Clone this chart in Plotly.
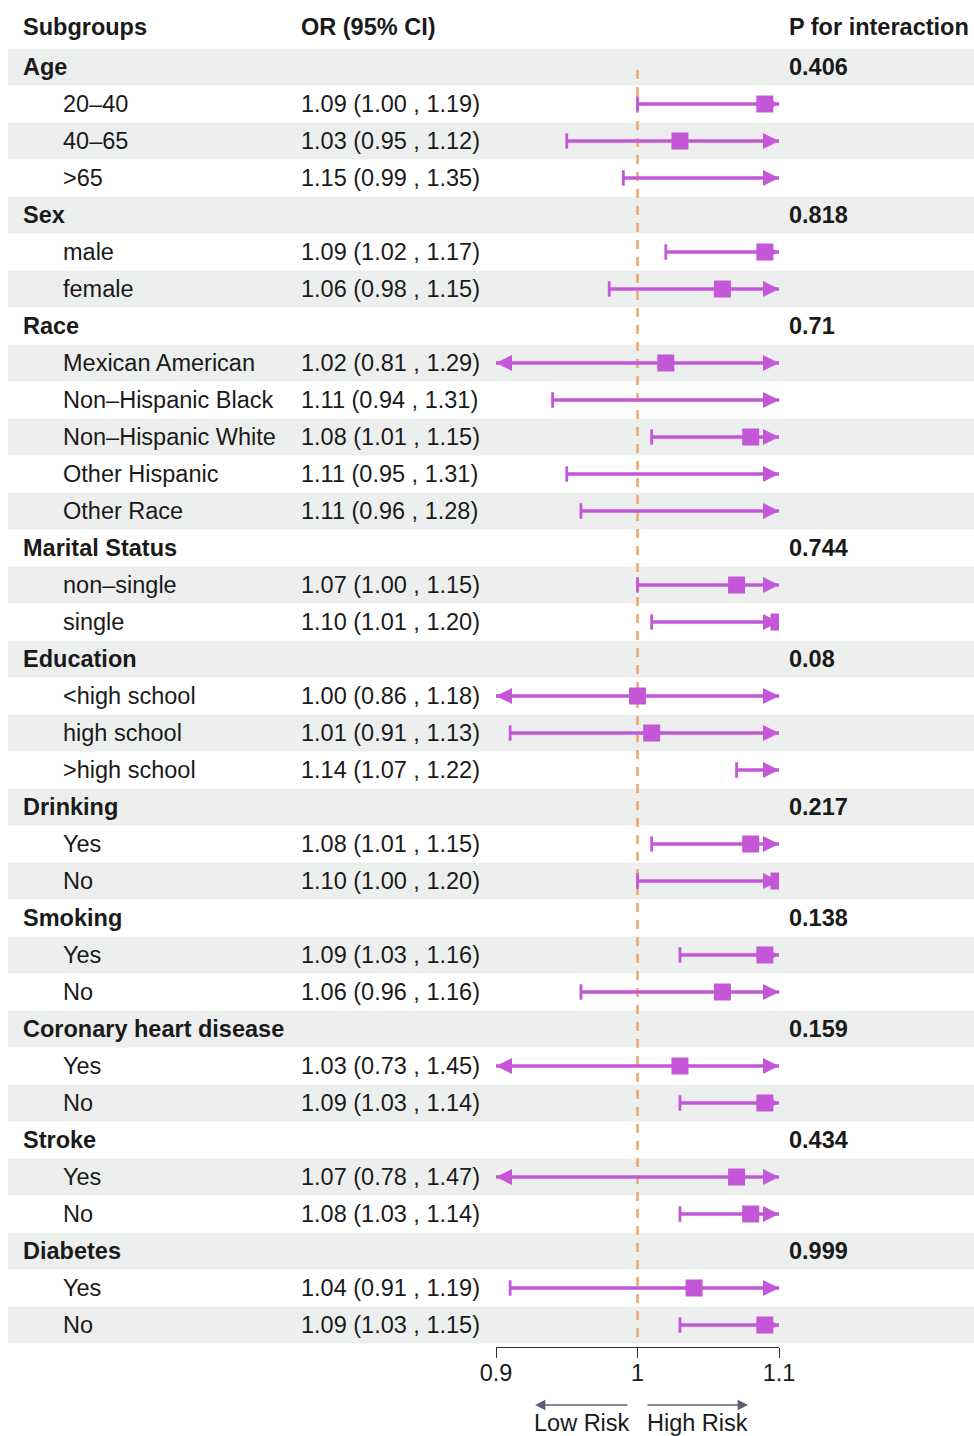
import plotly.graph_objects as go

W, H = 974, 1436

# ---------------- data ----------------
groups = ["Age", "Sex", "Race", "Marital Status", "Education", "Drinking",
          "Smoking", "Coronary heart disease", "Stroke", "Diabetes"]
p_interaction = ["0.406", "0.818", "0.71", "0.744", "0.08", "0.217",
                 "0.138", "0.159", "0.434", "0.999"]
subgroups = [
    ["20–40", "40–65", ">65"],
    ["male", "female"],
    ["Mexican American", "Non–Hispanic Black", "Non–Hispanic White", "Other Hispanic", "Other Race"],
    ["non–single", "single"],
    ["<high school", "high school", ">high school"],
    ["Yes", "No"],
    ["Yes", "No"],
    ["Yes", "No"],
    ["Yes", "No"],
    ["Yes", "No"],
]
or_est = [
    [1.09, 1.03, 1.15],
    [1.09, 1.06],
    [1.02, 1.11, 1.08, 1.11, 1.11],
    [1.07, 1.10],
    [1.00, 1.01, 1.14],
    [1.08, 1.10],
    [1.09, 1.06],
    [1.03, 1.09],
    [1.07, 1.08],
    [1.04, 1.09],
]
ci_low = [
    [1.00, 0.95, 0.99],
    [1.02, 0.98],
    [0.81, 0.94, 1.01, 0.95, 0.96],
    [1.00, 1.01],
    [0.86, 0.91, 1.07],
    [1.01, 1.00],
    [1.03, 0.96],
    [0.73, 1.03],
    [0.78, 1.03],
    [0.91, 1.03],
]
ci_high = [
    [1.19, 1.12, 1.35],
    [1.17, 1.15],
    [1.29, 1.31, 1.15, 1.31, 1.28],
    [1.15, 1.20],
    [1.18, 1.13, 1.22],
    [1.15, 1.20],
    [1.16, 1.16],
    [1.45, 1.14],
    [1.47, 1.14],
    [1.19, 1.15],
]
x_min, x_max = 0.9, 1.1
tick_vals = [0.9, 1.0, 1.1]
tick_text = ["0.9", "1", "1.1"]

# ---------------- layout constants ----------------
FONT = "Liberation Sans, Arial, Helvetica, sans-serif"
FS = 23.5
TXT = "#1a1a1a"
PURPLE = "#C457D8"
ORANGE = "#F4A46E"
BAND = "#EDEFEE"
ROW0, PITCH = 67, 37          # pixel centre of first row, row pitch
X_LBL_G, X_LBL_S, X_OR, X_P = 21, 61, 299, 787
AX_L, AX_R = 496, 779
LW = 3.3


def row_of(px):
    return (px - ROW0) / PITCH


# build rows
rows = []  # (label, is_group, est, lo, hi, p)
for g, p, subs, es, ls, hs in zip(groups, p_interaction, subgroups, or_est, ci_low, ci_high):
    rows.append((g, True, None, None, None, p))
    for s, e, l, h in zip(subs, es, ls, hs):
        rows.append((s, False, e, l, h, None))

fig = go.Figure()
shapes = []
annotations = []

# bands
for i in range(len(rows)):
    if i % 2 == 0:
        shapes.append(dict(type="rect", xref="paper", yref="y", x0=8 / W, x1=1,
                           y0=i - 0.5, y1=i + 0.5, fillcolor=BAND, line=dict(width=0),
                           layer="below"))

# reference line at OR = 1
shapes.append(dict(type="line", xref="x", yref="y", x0=1, x1=1,
                   y0=row_of(70), y1=row_of(1340),
                   line=dict(color=ORANGE, width=2.5, dash="9px,8px"), layer="below"))

# header
for txt, px in [("Subgroups", X_LBL_G), ("OR (95% CI)", X_OR), ("P for interaction", X_P)]:
    annotations.append(dict(x=px / W, xref="paper", y=row_of(27), yref="y", text=f"<b>{txt}</b>",
                            showarrow=False, xanchor="left", yanchor="middle",
                            font=dict(family=FONT, size=FS, color=TXT)))

line_x, line_y = [], []
cap_x, cap_y = [], []
arr_r_x, arr_r_y = [], []
arr_l_x, arr_l_y = [], []
sq_x, sq_y = [], []

for i, (lab, is_g, e, l, h, p) in enumerate(rows):
    if is_g:
        annotations.append(dict(x=X_LBL_G / W, xref="paper", y=i, yref="y", text=f"<b>{lab}</b>",
                                showarrow=False, xanchor="left", yanchor="middle",
                                font=dict(family=FONT, size=FS, color=TXT)))
        annotations.append(dict(x=X_P / W, xref="paper", y=i, yref="y", text=f"<b>{p}</b>",
                                showarrow=False, xanchor="left", yanchor="middle",
                                font=dict(family=FONT, size=FS, color=TXT)))
        continue
    annotations.append(dict(x=X_LBL_S / W, xref="paper", y=i, yref="y", text=lab,
                            showarrow=False, xanchor="left", yanchor="middle",
                            font=dict(family=FONT, size=FS, color=TXT)))
    annotations.append(dict(x=X_OR / W, xref="paper", y=i, yref="y",
                            text=f"{e:.2f} ({l:.2f} , {h:.2f})",
                            showarrow=False, xanchor="left", yanchor="middle",
                            font=dict(family=FONT, size=FS, color=TXT)))
    lc, hc = max(l, x_min), min(h, x_max)
    line_x += [lc, hc, None]
    line_y += [i, i, None]
    if l < x_min:
        arr_l_x.append(x_min); arr_l_y.append(i)
    else:
        cap_x.append(l); cap_y.append(i)
    if h > x_max:
        arr_r_x.append(x_max); arr_r_y.append(i)
    else:
        cap_x.append(h); cap_y.append(i)
    if x_min <= e <= x_max:
        sq_x.append(e); sq_y.append(i)

fig.add_trace(go.Scatter(x=line_x, y=line_y, mode="lines",
                         line=dict(color=PURPLE, width=LW), hoverinfo="skip", showlegend=False))
fig.add_trace(go.Scatter(x=cap_x, y=cap_y, mode="markers",
                         marker=dict(symbol="line-ns", size=11, line=dict(color=PURPLE, width=2.8)),
                         hoverinfo="skip", showlegend=False))
fig.add_trace(go.Scatter(x=arr_r_x, y=arr_r_y, mode="markers",
                         marker=dict(symbol="arrow-right", size=16, color=PURPLE, line=dict(width=0)),
                         hoverinfo="skip", showlegend=False))
fig.add_trace(go.Scatter(x=arr_l_x, y=arr_l_y, mode="markers",
                         marker=dict(symbol="arrow-left", size=16, color=PURPLE, line=dict(width=0)),
                         hoverinfo="skip", showlegend=False))
fig.add_trace(go.Scatter(x=sq_x, y=sq_y, mode="markers",
                         marker=dict(symbol="square", size=17, color=PURPLE, line=dict(width=0)),
                         hoverinfo="skip", showlegend=False))

# Low / High risk arrows
ry = 1 - 1405 / H
annotations.append(dict(x=535 / W, y=ry, xref="paper", yref="paper", ax=94, ay=0,
                        axref="pixel", ayref="pixel", text="", showarrow=True,
                        arrowhead=2, arrowsize=1.3, arrowwidth=1.6, arrowcolor="#5a6070"))
annotations.append(dict(x=748 / W, y=ry, xref="paper", yref="paper", ax=-102, ay=0,
                        axref="pixel", ayref="pixel", text="", showarrow=True,
                        arrowhead=2, arrowsize=1.3, arrowwidth=1.6, arrowcolor="#5a6070"))
for txt, cx in [("Low Risk", 582), ("High Risk", 697)]:
    annotations.append(dict(x=cx / W, y=1 - 1423 / H, xref="paper", yref="paper", text=txt,
                            showarrow=False, xanchor="center", yanchor="middle",
                            font=dict(family=FONT, size=FS, color=TXT)))

fig.update_layout(
    width=W, height=H, margin=dict(l=0, r=0, t=0, b=0, autoexpand=False),
    paper_bgcolor="white", plot_bgcolor="rgba(0,0,0,0)",
    shapes=shapes, annotations=annotations, showlegend=False,
    xaxis=dict(domain=[AX_L / W, AX_R / W], range=[x_min, x_max], anchor="free",
               position=1 - 1347 / H, showgrid=False, zeroline=False, automargin=False,
               showline=True, linecolor="#333", linewidth=1.3,
               ticks="outside", ticklen=10, tickwidth=1.3, tickcolor="#333",
               ticklabelstandoff=-5,
               tickvals=tick_vals, ticktext=tick_text,
               tickfont=dict(family=FONT, size=FS, color=TXT)),
    yaxis=dict(domain=[0, 1], range=[row_of(H), row_of(0)], visible=False, automargin=False,
               showgrid=False, zeroline=False),
)

fig.write_html(
    "out.html",
    config={"displayModeBar": False},
    post_script="document.body.style.margin='0';document.body.style.overflow='hidden';",
)
